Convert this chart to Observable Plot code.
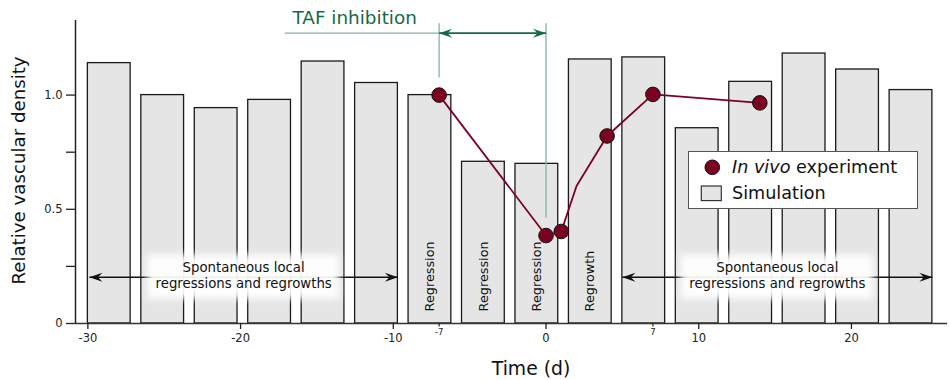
<!DOCTYPE html>
<html><head><meta charset="utf-8">
<script src="https://cdn.jsdelivr.net/npm/d3@7"></script>
<script src="https://cdn.jsdelivr.net/npm/@observablehq/plot@0.6"></script>
<style>
body{margin:0;background:#fff}
#wrap{position:relative;width:949px;height:380px;font-family:"DejaVu Sans",sans-serif}
#legend{position:absolute;left:688px;top:151px;width:230px;height:58px;box-sizing:border-box;border:1px solid #555;background:#fff}
</style>
</head><body>
<div id="wrap"></div>
<script>
// ---- data ----
const barStart = [-30,-26.5,-23,-19.5,-16,-12.5,-9,-5.5,-2,1.5,5,8.5,12,15.5,19,22.5];
const simValue = [1.140,1.000,0.943,0.979,1.147,1.053,1.000,0.708,0.699,1.156,1.165,0.855,1.058,1.182,1.112,1.022];
const barWidth = 2.8;
const vivoDay = [-7,0,1,2,4,7,14];
const vivoValue = [1.0,0.385,0.403,0.602,0.821,1.003,0.966];
const vivoMeasured = [true,true,true,false,true,true,true];
const phaseBarIndex = [6,7,8,9];
const phaseLabel = ["Regression","Regression","Regression","Regrowth"];
const spontFrom = [-29.9, 5.0];
const spontTo = [-9.7, 25.3];
const spontLevel = 0.203;
const spontText = "Spontaneous local\nregressions and regrowths";
const tafLabel = "TAF inhibition";
const tafStart = -7, tafEnd = 0, tafLead = -17.1, tafLevel = 1.271;
const tafGuideTop = 1.315;
const tafGuideBottom = [1.077, 0.464];
const tafLabelX = -16.6, tafLabelY = 1.338;
const xTicks = [-30,-20,-10,0,10,20];
const xMinorTicks = [-7,7];
const yTicks = [0,0.25,0.5,0.75,1];
const yTickLabels = {0:"0",0.5:"0.5",1:"1.0"};
const xDomain = [-30.81, 26.29];
const yDomain = [0, 1.3266];
const xLabel = "Time (d)";
const yLabel = "Relative vascular density";

// ---- derived tables ----
const bars = barStart.map((s,i)=>({x1:s, x2:s+barWidth, y:simValue[i]}));
const vivo = vivoDay.map((d,i)=>({x:d, y:vivoValue[i], m:vivoMeasured[i]}));
const phases = phaseBarIndex.map((b,i)=>({x:barStart[b]+barWidth/2, label:phaseLabel[i]}));
const spont = spontFrom.map((a,i)=>({a, b:spontTo[i], c:(a+spontTo[i])/2}));
const guides = [tafStart, tafEnd].map((x,i)=>({x, y1:tafGuideTop, y2:tafGuideBottom[i]}));

const leftHead = {draw(c){c.moveTo(0,0);c.lineTo(13,-4.5);c.lineTo(8.5,0);c.lineTo(13,4.5);c.closePath();}};
const rightHead = {draw(c){c.moveTo(0,0);c.lineTo(-13,-4.5);c.lineTo(-8.5,0);c.lineTo(-13,4.5);c.closePath();}};

const maroon = "#7c0022";
const lightGreen = "#82b59f";
const darkGreen = "#156a45";

const chart = Plot.plot({
  width: 949, height: 380,
  marginLeft: 75, marginRight: 2, marginTop: 20, marginBottom: 57,
  style: {fontFamily: "DejaVu Sans", color: "#222", background: "white", overflow: "visible"},
  x: {domain: xDomain},
  y: {domain: yDomain},
  marks: [
    Plot.rectY(bars, {x1:"x1", x2:"x2", y:"y", fill:"#e5e5e5", stroke:"#1a1a1a", strokeWidth:1.3}),
    // spontaneous arrows shafts
    Plot.link(spont, {x1:"a", x2:"b", y1:spontLevel, y2:spontLevel, stroke:"#111", strokeWidth:1.5}),
    Plot.rect(spont, {x1:d=>d.c-6.3, x2:d=>d.c+6.3, y1:spontLevel-0.097, y2:spontLevel+0.097, fill:"white", fillOpacity:0.93}),
    Plot.text(spont, {x:"c", y:spontLevel, text:()=>spontText, fontSize:13.3, lineHeight:1.25, dy:-2.5, fill:"#111"}),
    Plot.dot(spont, {x:"a", y:spontLevel, symbol:leftHead, fill:"#111", stroke:"none"}),
    Plot.dot(spont, {x:"b", y:spontLevel, symbol:rightHead, fill:"#111", stroke:"none"}),
    // phase labels
    Plot.text(phases, {x:"x", y:0.053, text:"label", rotate:-90, textAnchor:"start", fontSize:12.8, fill:"#111"}),
    // TAF annotation
    Plot.link([tafLead], {x1:d=>d, x2:tafStart, y1:tafLevel, y2:tafLevel, stroke:lightGreen, strokeWidth:1.3}),
    Plot.link(guides, {x1:"x", x2:"x", y1:"y1", y2:"y2", stroke:lightGreen, strokeWidth:1.3}),
    Plot.link([tafStart], {x1:d=>d, x2:tafEnd, y1:tafLevel, y2:tafLevel, stroke:darkGreen, strokeWidth:1.8}),
    Plot.dot([tafStart], {x:d=>d, y:tafLevel, symbol:leftHead, fill:darkGreen, stroke:"none"}),
    Plot.dot([tafEnd], {x:d=>d, y:tafLevel, symbol:rightHead, fill:darkGreen, stroke:"none"}),
    Plot.text([tafLabel], {x:tafLabelX, y:tafLabelY, text:d=>d, textAnchor:"start", fontSize:18.4, fill:darkGreen}),
    // in vivo
    Plot.line(vivo, {x:"x", y:"y", stroke:maroon, strokeWidth:1.8}),
    Plot.dot(vivo.filter(d=>d.m), {x:"x", y:"y", r:7.3, fill:maroon, stroke:"#111", strokeWidth:1}),
    // axes
    Plot.ruleY([yDomain[0]], {stroke:"#333", strokeWidth:1.5}),
    Plot.ruleX([xDomain[0]], {stroke:"#222", strokeWidth:1.5}),
    Plot.axisY({ticks:yTicks, tickSize:9, tickPadding:4, tickFormat:d=>yTickLabels[d] ?? "", fontSize:11.5, strokeWidth:1.3, label:null}),
    Plot.axisX({ticks:xTicks, tickSize:6, tickPadding:4.5, tickFormat:d=>String(d), fontSize:11.5, strokeWidth:1.3, label:null}),
    Plot.axisX({ticks:xMinorTicks, tickSize:3.5, tickPadding:2, tickFormat:d=>String(d), fontSize:8.5, strokeWidth:1.2, label:null}),
    Plot.text([xLabel], {frameAnchor:"bottom", text:d=>d, dx:19.5, dy:45, fontSize:18.8, fill:"#111", lineAnchor:"middle", textAnchor:"middle"}),
    Plot.text([yLabel], {frameAnchor:"left", text:d=>d, rotate:-90, dx:-56, dy:-1.5, fontSize:18.2, fill:"#111", lineAnchor:"middle", textAnchor:"middle"})
  ]
});

// soft glow behind the spontaneous labels
const ns = "http://www.w3.org/2000/svg";
const defs = document.createElementNS(ns, "defs");
defs.innerHTML = '<filter id="glow" x="-20%" y="-40%" width="140%" height="180%"><feGaussianBlur stdDeviation="3.5"/></filter>';
chart.insertBefore(defs, chart.firstChild);
const rects = chart.querySelectorAll('g[aria-label="rect"]');
if (rects.length > 1) rects[1].setAttribute("filter", "url(#glow)");

const wrap = document.getElementById("wrap");
wrap.appendChild(chart);

// legend
const legend = document.createElement("div");
legend.id = "legend";
legend.innerHTML = `<svg width="228" height="56" style="display:block;font-family:'DejaVu Sans'">
  <circle cx="23.3" cy="15.3" r="7.3" fill="${maroon}" stroke="#111" stroke-width="1"/>
  <text x="43" y="15.3" dominant-baseline="central" font-size="17.6" fill="#111"><tspan font-style="italic">In vivo</tspan> experiment</text>
  <rect x="12.3" y="34" width="20" height="14.6" fill="#e5e5e5" stroke="#333" stroke-width="1.2"/>
  <text x="43" y="41.3" dominant-baseline="central" font-size="17.6" fill="#111">Simulation</text>
</svg>`;
wrap.appendChild(legend);
</script>
</body></html>
